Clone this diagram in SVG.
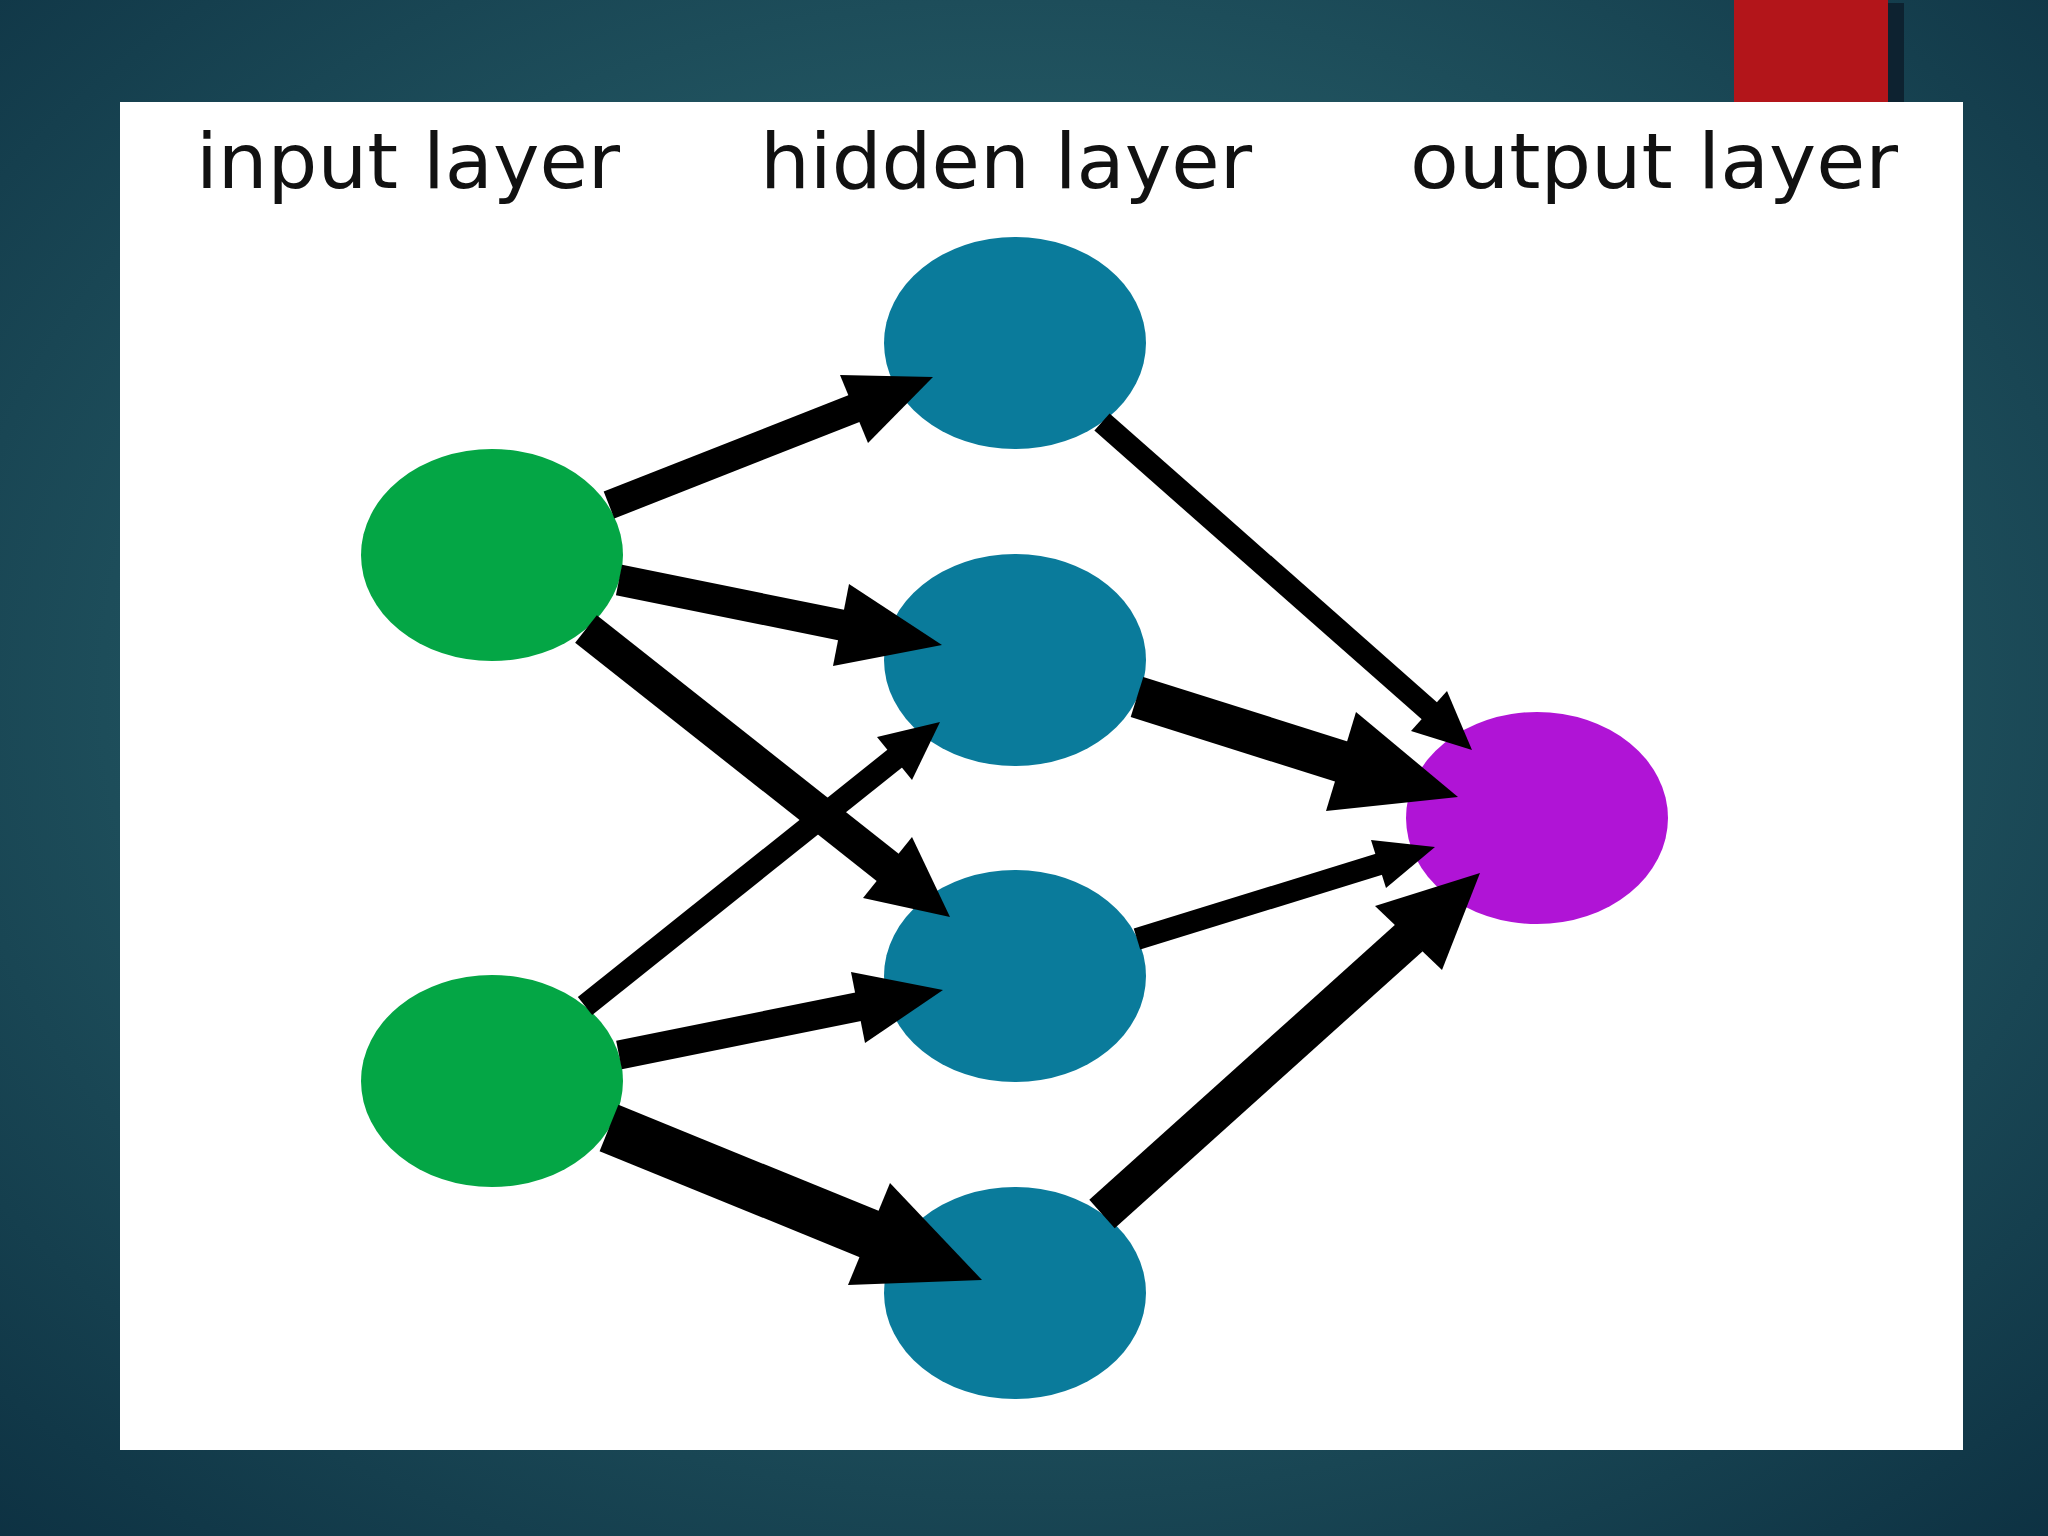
<svg xmlns="http://www.w3.org/2000/svg" width="2048" height="1536" viewBox="0 0 2048 1536">
<defs>
<radialGradient id="bg" cx="50%" cy="45%" r="75%" fx="50%" fy="45%">
<stop offset="0" stop-color="#336a6c"/>
<stop offset="0.5" stop-color="#215460"/>
<stop offset="1" stop-color="#0d3142"/>
</radialGradient>
<style>
.lbl{font-family:"DejaVu Sans","Liberation Sans",sans-serif;font-size:77px;fill:#111}
.in{fill:#04a645}
.hid{fill:#0a7b9b}
.out{fill:#b014d6}
.e{stroke:#000;stroke-linecap:butt;fill:none}
.h{fill:#000}
</style>
</defs>
<rect width="2048" height="1536" fill="url(#bg)"/>
<rect x="1734" y="0" width="154" height="102" fill="#b3151a"/>
<rect x="1888" y="3" width="16" height="99" fill="#0d2230"/>
<rect x="120" y="102" width="1843" height="1348" fill="#ffffff"/>
<g id="labels">
<text class="lbl" x="196" y="188" textLength="424" lengthAdjust="spacingAndGlyphs">input layer</text>
<text class="lbl" x="760" y="188" textLength="492" lengthAdjust="spacingAndGlyphs">hidden layer</text>
<text class="lbl" x="1410" y="188" textLength="488" lengthAdjust="spacingAndGlyphs">output layer</text>
</g>
<g id="nodes">
<ellipse id="i1" class="in" cx="492" cy="555" rx="131" ry="106"/>
<ellipse id="i2" class="in" cx="492" cy="1081" rx="131" ry="106"/>
<ellipse id="h1" class="hid" cx="1015" cy="343" rx="131" ry="106"/>
<ellipse id="h2" class="hid" cx="1015" cy="660" rx="131" ry="106"/>
<ellipse id="h3" class="hid" cx="1015" cy="976" rx="131" ry="106"/>
<ellipse id="h4" class="hid" cx="1015" cy="1293" rx="131" ry="106"/>
<ellipse id="o1" class="out" cx="1537" cy="818" rx="131" ry="106"/>
</g>
<g id="connectors">
<line class="e" x1="609" y1="505" x2="858" y2="407" stroke-width="29"/>
<polygon class="h" points="933,377 868,443 840,375"/>
<line class="e" x1="619" y1="580" x2="846" y2="626" stroke-width="31"/>
<polygon class="h" points="942,645 833,666 849,584"/>
<line class="e" x1="586" y1="629" x2="891" y2="870" stroke-width="35"/>
<polygon class="h" points="950,917 863,898 912,837"/>
<line class="e" x1="585" y1="1006" x2="898" y2="756" stroke-width="23"/>
<polygon class="h" points="940,722 912,780 877,737"/>
<line class="e" x1="619" y1="1055" x2="862" y2="1006" stroke-width="29"/>
<polygon class="h" points="943,990 865,1043 851,972"/>
<line class="e" x1="609" y1="1128" x2="874" y2="1236" stroke-width="50"/>
<polygon class="h" points="982,1280 848,1285 890,1183"/>
<line class="e" x1="1102" y1="422" x2="1433" y2="714" stroke-width="23"/>
<polygon class="h" points="1472,750 1411,731 1447,691"/>
<line class="e" x1="1137" y1="697" x2="1346" y2="763" stroke-width="42"/>
<polygon class="h" points="1458,797 1326,811 1356,712"/>
<line class="e" x1="1137" y1="939" x2="1383" y2="863" stroke-width="22"/>
<polygon class="h" points="1435,847 1386,888 1371,840"/>
<line class="e" x1="1102" y1="1214" x2="1410" y2="937" stroke-width="38"/>
<polygon class="h" points="1480,873 1442,970 1375,906"/>
</g>
</svg>
